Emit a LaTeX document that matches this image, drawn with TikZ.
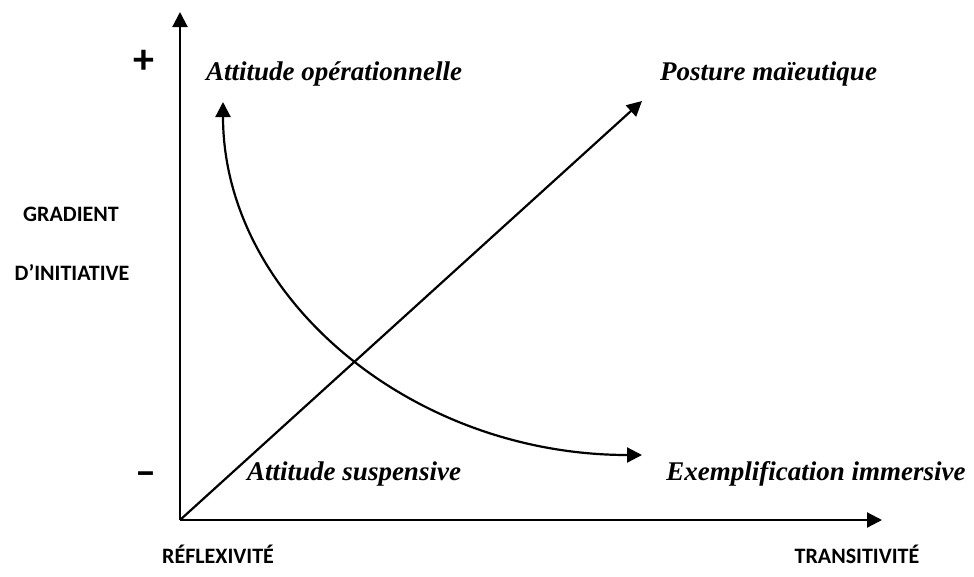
\documentclass[tikz,border=0pt]{standalone}
\usepackage{fontspec}
\setmainfont{Liberation Serif}
\newfontfamily\axisfont{Carlito}
\usetikzlibrary{arrows.meta}
\begin{document}
\begin{tikzpicture}[x=1pt,y=-1pt,
  tipstyle/.style={line width=2.2pt},
  axis/.style={tipstyle,-{Triangle[length=15pt,width=15pt]}},
  curvearrow/.style={tipstyle,{Triangle[length=15pt,width=15pt]}-{Triangle[length=15pt,width=15pt]}},
  posture/.style={font=\fontsize{27}{30}\selectfont\bfseries\itshape,inner sep=0pt},
  axislabel/.style={font=\fontsize{22}{24}\selectfont\axisfont\bfseries,inner sep=0pt},
  sign/.style={font=\fontsize{42}{44}\selectfont\axisfont\bfseries,inner sep=0pt}]
\useasboundingbox (0,0) rectangle (974,576);
\coordinate (O) at (180,520);
\coordinate (ytip) at (180,12);
\coordinate (xtip) at (882,520);
\coordinate (dtip) at (642,101);
\coordinate (ctop) at (223,102);
\coordinate (cend) at (642,455);
\draw[axis] (O) -- (ytip);
\draw[axis] (O) -- (xtip);
\draw[axis] (O) -- (dtip);
\draw[curvearrow] (cend) .. controls (411,455) and (223,297) .. (ctop);
\node[sign] (plus) at (144,62) {+};
\node[sign] (minus) at (146,479) {–};
\node[axislabel] (g1) at (71,214) {GRADIENT};
\node[axislabel] (g2) at (72,272) {D’INITIATIVE};
\node[axislabel] (rx) at (218,554) {RÉFLEXIVITÉ};
\node[axislabel] (tr) at (857,554) {TRANSITIVITÉ};
\node[posture,anchor=west] (ao) at (206,74) {Attitude opérationnelle};
\node[posture,anchor=west] (pm) at (660,74) {Posture maïeutique};
\node[posture,anchor=west] (as) at (247,474) {Attitude suspensive};
\node[posture] (ei) at (816,474) {Exemplification immersive};
\end{tikzpicture}
\end{document}
